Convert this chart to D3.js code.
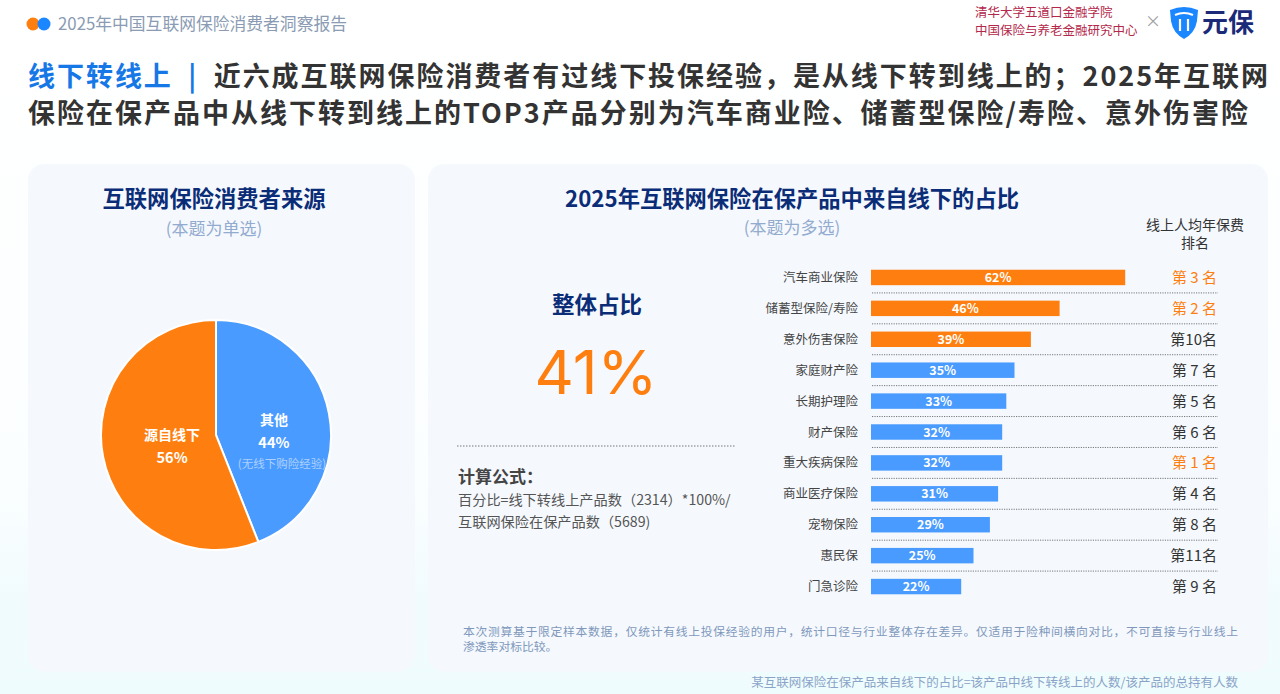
<!DOCTYPE html>
<html>
<head>
<meta charset="UTF-8">
<title>线下转线上</title>
<script src="https://d3js.org/d3.v7.min.js"></script>
<style>
  html, body { margin: 0; padding: 0; background: #fff; }
  svg { display: block; font-family: "Noto Sans CJK SC", "Noto Sans", sans-serif; }
</style>
</head>
<body>
<script>
// ---- data ----
var pieLabels = ["其他", "源自线下"];
var pieValues = [44, 56];

var products = ["汽车商业保险", "储蓄型保险/寿险", "意外伤害保险", "家庭财产险", "长期护理险",
  "财产保险", "重大疾病保险", "商业医疗保险", "宠物保险", "惠民保", "门急诊险"];
var shares = [62, 46, 39, 35, 33, 32, 32, 31, 29, 25, 22];
var ranks = [3, 2, 10, 7, 5, 6, 1, 4, 8, 11, 9];

var overall = 41;
var orange = "#fe7f0f", blue = "#4a9bff", navy = "#0b2d77";

var W = 1280, H = 694;
var svg = d3.select("body").append("svg").attr("width", W).attr("height", H);

// background gradient
var defs = svg.append("defs");
var bg = defs.append("linearGradient").attr("id", "bg").attr("x1", 0).attr("y1", 0).attr("x2", 0).attr("y2", 1);
bg.append("stop").attr("offset", "0%").attr("stop-color", "#ffffff");
bg.append("stop").attr("offset", "70%").attr("stop-color", "#fbfeff");
bg.append("stop").attr("offset", "88%").attr("stop-color", "#f0fbfd");
bg.append("stop").attr("offset", "100%").attr("stop-color", "#effcfd");
svg.append("rect").attr("width", W).attr("height", H).attr("fill", "url(#bg)");

svg.append("rect").attr("x", 28).attr("y", 164).attr("width", 387).attr("height", 508)
  .attr("rx", 16).attr("fill", "#f5f9fe");
svg.append("rect").attr("x", 428).attr("y", 164).attr("width", 840).attr("height", 508)
  .attr("rx", 16).attr("fill", "#f5f9fe");

// ---- header ----
svg.append("circle").attr("cx", 33).attr("cy", 24).attr("r", 6.5).attr("fill", orange);
svg.append("circle").attr("cx", 44).attr("cy", 24).attr("r", 6.5).attr("fill", "#1a86ff");
svg.append("text").attr("x", 58).attr("y", 30).attr("font-size", 16.8).attr("fill", "#8a9bb3")
  .text("2025年中国互联网保险消费者洞察报告");

svg.append("text").attr("x", 975).attr("y", 17).attr("font-size", 12.5).attr("fill", "#b3274a")
  .text("清华大学五道口金融学院");
svg.append("text").attr("x", 975).attr("y", 35).attr("font-size", 12.5).attr("fill", "#b3274a")
  .text("中国保险与养老金融研究中心");
svg.append("text").attr("x", 1153).attr("y", 27).attr("text-anchor", "middle").attr("font-size", 16)
  .attr("fill", "#a0a0a0").text("×");
// logo shield
var logo = svg.append("g").attr("transform", "translate(1170,7)");
logo.append("path").attr("d", "M0,3 Q14,-3 28,3 L27,14 Q25,26 14,32 Q3,26 1,14 Z").attr("fill", "#1a86ff");
logo.append("path").attr("d", "M5,8 Q14,4 23,8").attr("stroke", "#fff").attr("stroke-width", 2.2).attr("fill", "none");
logo.append("path").attr("d", "M10,12 L10,24 M18,12 L18,24").attr("stroke", "#fff").attr("stroke-width", 2.2);
svg.append("text").attr("x", 1202).attr("y", 32).attr("font-size", 26).attr("font-weight", 700)
  .attr("fill", "#1b2a78").text("元保");

// ---- title ----
var t1 = svg.append("text").attr("x", 28).attr("y", 86).attr("font-size", 27).attr("font-weight", 700)
  .attr("fill", "#333").attr("textLength", 1240).attr("lengthAdjust", "spacing");
t1.append("tspan").attr("fill", "#1677e6").text("线下转线上\u2002|\u2002");
t1.append("tspan").text("近六成互联网保险消费者有过线下投保经验，是从线下转到线上的；2025年互联网");
svg.append("text").attr("x", 28).attr("y", 123).attr("font-size", 27).attr("font-weight", 700).attr("fill", "#333")
  .attr("textLength", 1220).attr("lengthAdjust", "spacing")
  .text("保险在保产品中从线下转到线上的TOP3产品分别为汽车商业险、储蓄型保险/寿险、意外伤害险");

// ---- left panel: pie ----
svg.append("text").attr("x", 214).attr("y", 207).attr("text-anchor", "middle").attr("font-size", 22.3)
  .attr("font-weight", 700).attr("fill", navy).text("互联网保险消费者来源");
svg.append("text").attr("x", 214).attr("y", 235).attr("text-anchor", "middle").attr("font-size", 17)
  .attr("fill", "#93abcf").text("(本题为单选)");

var pieData = pieLabels.map(function (d, i) { return { label: d, value: pieValues[i] }; });
var pie = d3.pie().sort(null).value(function (d) { return d.value; });
var arc = d3.arc().innerRadius(0).outerRadius(115);
var pg2 = svg.append("g").attr("transform", "translate(216,435)");
var arcs = pie(pieData);
pg2.selectAll("path").data(arcs).enter().append("path")
  .attr("d", arc)
  .attr("fill", function (d, i) { return i === 0 ? blue : orange; })
  .attr("stroke", "#fff").attr("stroke-width", 2);

var labelArc = d3.arc().innerRadius(62).outerRadius(62);
arcs.forEach(function (d, i) {
  var c = labelArc.centroid(d);
  var dx = i === 0 ? -3 : 17, dy = i === 0 ? 10 : 1;
  var g = pg2.append("g").attr("transform", "translate(" + (c[0] + dx) + "," + (c[1] + dy) + ")");
  g.append("text").attr("text-anchor", "middle").attr("y", -8).attr("font-size", 14).attr("font-weight", 700)
    .attr("fill", "#fff").text(d.data.label);
  g.append("text").attr("text-anchor", "middle").attr("y", 15).attr("font-size", 14.5).attr("font-weight", 700)
    .attr("fill", "#fff").text(d.data.value + "%");
  if (i === 0) {
    g.append("text").attr("text-anchor", "middle").attr("x", 8).attr("y", 35).attr("font-size", 11.5)
      .attr("fill", "#fff").attr("fill-opacity", 0.55).text("(无线下购险经验)");
  }
});

// ---- right panel ----
svg.append("text").attr("x", 792).attr("y", 207).attr("text-anchor", "middle").attr("font-size", 22.3)
  .attr("font-weight", 700).attr("fill", navy).text("2025年互联网保险在保产品中来自线下的占比");
svg.append("text").attr("x", 792).attr("y", 234).attr("text-anchor", "middle").attr("font-size", 17)
  .attr("fill", "#93abcf").text("(本题为多选)");

svg.append("text").attr("x", 597).attr("y", 313).attr("text-anchor", "middle").attr("font-size", 22.5)
  .attr("font-weight", 700).attr("fill", navy).text("整体占比");
svg.append("text").attr("x", 596).attr("y", 394).attr("text-anchor", "middle").attr("font-size", 61)
  .attr("font-family", "Inter, 'Noto Sans', sans-serif").attr("font-weight", 400).attr("fill", orange).text(overall + "%");

svg.append("line").attr("x1", 457).attr("x2", 736).attr("y1", 446).attr("y2", 446)
  .attr("stroke", "#777").attr("stroke-width", 1).attr("stroke-dasharray", "1.5,1.5");
svg.append("text").attr("x", 458).attr("y", 483).attr("font-size", 17).attr("font-weight", 700)
  .attr("fill", "#444").text("计算公式：");
svg.append("text").attr("x", 458).attr("y", 505).attr("font-size", 14.2).attr("fill", "#555")
  .text("百分比=线下转线上产品数（2314）*100%/");
svg.append("text").attr("x", 458).attr("y", 527).attr("font-size", 14.2).attr("fill", "#555")
  .text("互联网保险在保产品数（5689)");

// rank header
svg.append("text").attr("x", 1195).attr("y", 230).attr("text-anchor", "middle").attr("font-size", 14)
  .attr("fill", "#333").text("线上人均年保费");
svg.append("text").attr("x", 1195).attr("y", 248).attr("text-anchor", "middle").attr("font-size", 14)
  .attr("fill", "#333").text("排名");

// bar chart
var x = d3.scaleLinear().domain([0, 100]).range([871, 1281]);
var y = d3.scaleBand().domain(products).range([262, 602]).paddingInner(0.5).paddingOuter(0.25);
var step = y.step();

var rows = svg.append("g").selectAll("g").data(products).enter().append("g");

rows.append("rect")
  .attr("x", x(0)).attr("y", function (d) { return y(d); })
  .attr("width", function (d, i) { return x(shares[i]) - x(0); })
  .attr("height", y.bandwidth())
  .attr("fill", function (d, i) { return i < 3 ? orange : blue; });

rows.append("text")
  .attr("x", function (d, i) { return (x(0) + x(shares[i])) / 2; })
  .attr("y", function (d) { return y(d) + y.bandwidth() / 2 + 4.5; })
  .attr("text-anchor", "middle").attr("font-size", 12.5).attr("font-weight", 700).attr("fill", "#fff")
  .text(function (d, i) { return shares[i] + "%"; });

rows.append("text")
  .attr("x", 858)
  .attr("y", function (d) { return y(d) + y.bandwidth() / 2 + 4.5; })
  .attr("text-anchor", "end").attr("font-size", 12.5).attr("fill", "#444")
  .text(function (d) { return d; });

rows.append("text")
  .attr("x", 1217)
  .attr("y", function (d) { return y(d) + y.bandwidth() / 2 + 5.5; })
  .attr("text-anchor", "end").attr("font-size", 15)
  .attr("fill", function (d, i) { return ranks[i] <= 3 ? orange : "#333"; })
  .attr("xml:space", "preserve")
  .text(function (d, i) { return ranks[i] < 10 ? "第 " + ranks[i] + " 名" : "第" + ranks[i] + "名"; });

// dotted separators
rows.filter(function (d, i) { return i < products.length - 1; })
  .append("line")
  .attr("x1", 872).attr("x2", 1218)
  .attr("y1", function (d) { return y(d) + y.bandwidth() / 2 + step / 2; })
  .attr("y2", function (d) { return y(d) + y.bandwidth() / 2 + step / 2; })
  .attr("stroke", "#777").attr("stroke-width", 1).attr("stroke-dasharray", "1.2,1.2");

// notes
svg.append("text").attr("x", 463).attr("y", 636).attr("font-size", 11.8).attr("fill", "#7f98bb")
  .attr("textLength", 775).attr("lengthAdjust", "spacing")
  .text("本次测算基于限定样本数据，仅统计有线上投保经验的用户，统计口径与行业整体存在差异。仅适用于险种间横向对比，不可直接与行业线上");
svg.append("text").attr("x", 463).attr("y", 651).attr("font-size", 11.8).attr("fill", "#7f98bb")
  .text("渗透率对标比较。");
svg.append("text").attr("x", 1238).attr("y", 687).attr("text-anchor", "end").attr("font-size", 12.5)
  .attr("fill", "#8aa4c8").text("某互联网保险在保产品来自线下的占比=该产品中线下转线上的人数/该产品的总持有人数");
</script>
</body>
</html>
